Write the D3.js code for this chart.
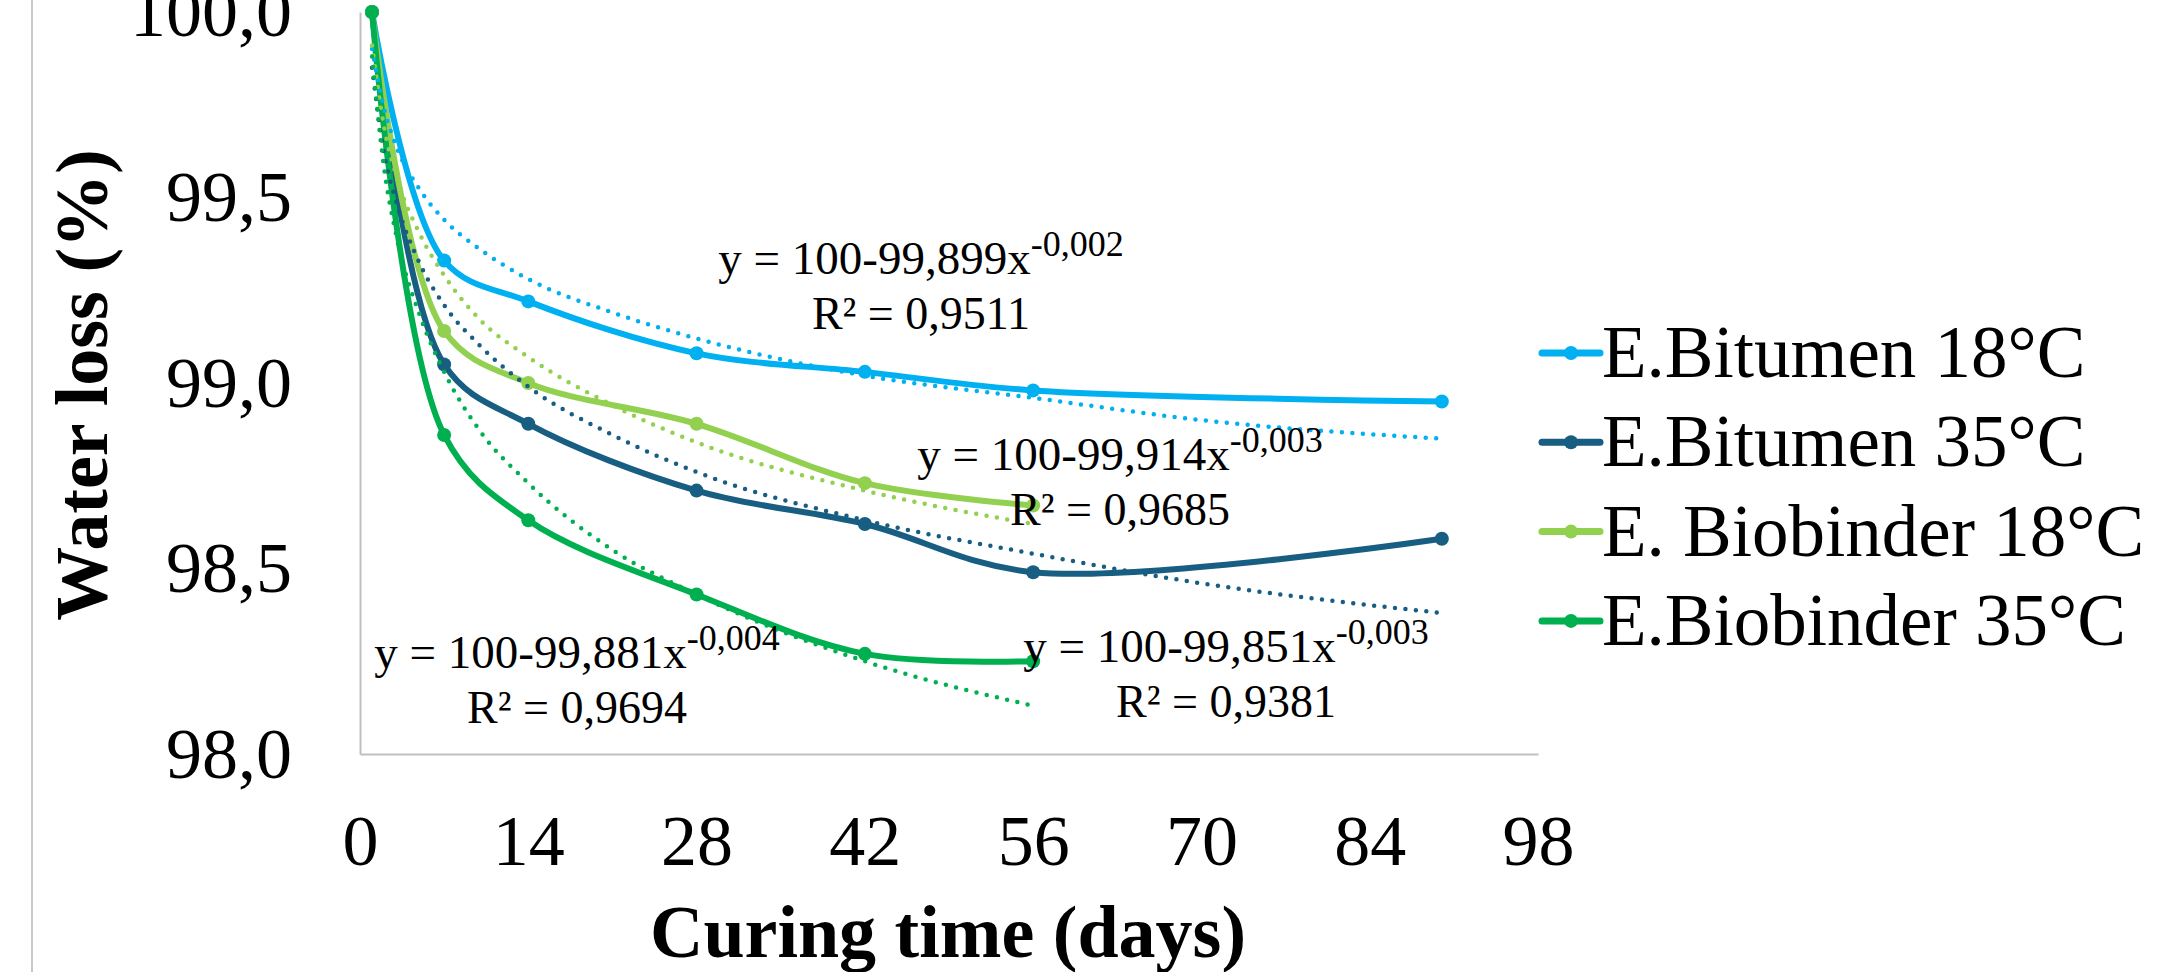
<!DOCTYPE html>
<html>
<head>
<meta charset="utf-8">
<script src="https://cdn.jsdelivr.net/npm/d3@7"></script>
<style>
  body { margin: 0; background: #fff; }
  text { font-family: "Liberation Serif", "Times New Roman", serif; fill: #000; }
</style>
</head>
<body>
<script>
// values
const days = [1, 7, 14, 28, 42, 56, 90];
const seriesNames = ["E.Bitumen 18°C", "E.Bitumen 35°C", "E. Biobinder 18°C", "E.Biobinder 35°C"];
const bitumen18 = [100, 99.33, 99.22, 99.08, 99.03, 98.98, 98.95];
const bitumen35 = [100, 99.05, 98.89, 98.71, 98.62, 98.49, 98.58];
const biobinder18 = [100, 99.14, 99.00, 98.89, 98.73, 98.67];
const biobinder35 = [100, 98.86, 98.63, 98.43, 98.27, 98.25];

// dotted power trendlines
const trendDays = [1, 2, 3, 5, 7, 10, 14, 21, 28, 42, 56, 70, 90];
const trendBitumen18 = [99.90, 99.74, 99.64, 99.52, 99.44, 99.36, 99.28, 99.19, 99.12, 99.02, 98.96, 98.90, 98.85];
const trendBitumen35 = [99.85, 99.62, 99.49, 99.32, 99.21, 99.10, 98.99, 98.86, 98.76, 98.63, 98.54, 98.46, 98.38];
const trendBiobinder18 = [99.91, 99.69, 99.56, 99.40, 99.29, 99.17, 99.07, 98.94, 98.84, 98.71, 98.62];
const trendBiobinder35 = [99.88, 99.58, 99.40, 99.18, 99.03, 98.87, 98.73, 98.55, 98.43, 98.25, 98.13];

// trendline equations, same order as the series
const eqMain = ["y = 100-99,899x", "y = 100-99,851x", "y = 100-99,914x", "y = 100-99,881x"];
const eqExp = ["-0,002", "-0,003", "-0,003", "-0,004"];
const r2Labels = ["R² = 0,9511", "R² = 0,9381", "R² = 0,9685", "R² = 0,9694"];

const xTicks = [0, 14, 28, 42, 56, 70, 84, 98];
const yTicks = [98, 98.5, 99, 99.5, 100];
const yTickLabels = ["98,0", "98,5", "99,0", "99,5", "100,0"];

const colors = ["#00B0F0", "#175E82", "#92D050", "#00B050"];

// layout
const width = 2181, height = 972;
const plot = {left: 360, right: 1538, top: 12, bottom: 754};

const svg = d3.select("body").append("svg")
    .attr("width", width)
    .attr("height", height);

// outer chart border (only left edge shows)
svg.append("line")
    .attr("x1", 32).attr("x2", 32)
    .attr("y1", 0).attr("y2", height)
    .attr("stroke", "#c8c8c8")
    .attr("stroke-width", 2);

const x = d3.scaleLinear().domain([0, 98]).range([plot.left, plot.right]);
const y = d3.scaleLinear().domain([98, 100]).range([plot.bottom, plot.top]);

// axes
const xAxis = svg.append("g")
    .attr("transform", `translate(0, ${plot.bottom})`)
    .call(d3.axisBottom(x).tickValues(xTicks).tickSize(0).tickPadding(60).tickFormat(d3.format("d")));
const yAxis = svg.append("g")
    .attr("transform", `translate(${plot.left}, 0)`)
    .call(d3.axisLeft(y).tickValues(yTicks).tickSize(0).tickPadding(68)
        .tickFormat((d, i) => yTickLabels[i]));

[xAxis, yAxis].forEach(function(g) {
    g.attr("font-family", null).attr("font-size", null);
    g.select(".domain").attr("stroke", "#bfbfbf").attr("stroke-width", 2);
    g.selectAll("text").style("font-size", "72px").attr("fill", "#000");
});

// axis titles
svg.append("text")
    .attr("transform", "translate(107, 385) rotate(-90)")
    .attr("text-anchor", "middle")
    .style("font-size", "74px")
    .style("font-weight", "bold")
    .text("Water loss (%)");

svg.append("text")
    .attr("x", 948)
    .attr("y", 957)
    .attr("text-anchor", "middle")
    .style("font-size", "74px")
    .style("font-weight", "bold")
    .text("Curing time (days)");

// series
const series = [bitumen18, bitumen35, biobinder18, biobinder35].map(function(vals, i) {
    return {name: seriesNames[i], color: colors[i], points: vals.map((v, j) => ({day: days[j], value: v}))};
});
const trends = [trendBitumen18, trendBitumen35, trendBiobinder18, trendBiobinder35].map(function(vals, i) {
    return {color: colors[i], points: vals.map((v, j) => ({day: trendDays[j], value: v}))};
});

const smoothLine = d3.line()
    .x(d => x(d.day))
    .y(d => y(d.value))
    .curve(d3.curveCatmullRom.alpha(0.5));

const trendLine = d3.line()
    .x(d => x(d.day))
    .y(d => y(d.value))
    .curve(d3.curveMonotoneX);

series.forEach(function(s) {
    const g = svg.append("g");
    g.append("path")
        .datum(s.points)
        .attr("d", smoothLine)
        .attr("fill", "none")
        .attr("stroke", s.color)
        .attr("stroke-width", 6)
        .attr("stroke-linejoin", "round")
        .attr("stroke-linecap", "round");
    g.selectAll("circle")
        .data(s.points)
        .join("circle")
        .attr("cx", d => x(d.day))
        .attr("cy", d => y(d.value))
        .attr("r", 7)
        .attr("fill", s.color);
});

trends.forEach(function(t) {
    svg.append("path")
        .datum(t.points)
        .attr("d", trendLine)
        .attr("fill", "none")
        .attr("stroke", t.color)
        .attr("stroke-width", 4.5)
        .attr("stroke-linecap", "round")
        .attr("stroke-dasharray", "0 10.5");
});

// trendline labels
const annPos = [{x: 921, y: 274}, {x: 1226, y: 662}, {x: 1120, y: 470}, {x: 577, y: 668}];
annPos.forEach(function(p, i) {
    const t = svg.append("text")
        .attr("x", p.x)
        .attr("y", p.y)
        .attr("text-anchor", "middle")
        .style("font-size", "47px");
    t.append("tspan").text(eqMain[i]);
    t.append("tspan").attr("dy", -18).style("font-size", "36px").text(eqExp[i]);
    svg.append("text")
        .attr("x", p.x)
        .attr("y", p.y + 55)
        .attr("text-anchor", "middle")
        .style("font-size", "46px")
        .text(r2Labels[i]);
});

// legend
const legend = svg.selectAll(".legend")
    .data(series)
    .join("g")
    .attr("class", "legend")
    .attr("transform", (d, i) => `translate(1542, ${353 + i * 89.3})`);

legend.append("line")
    .attr("x1", 0).attr("x2", 58)
    .attr("stroke", d => d.color)
    .attr("stroke-width", 7)
    .attr("stroke-linecap", "round");
legend.append("circle")
    .attr("cx", 29)
    .attr("r", 7)
    .attr("fill", d => d.color);
legend.append("text")
    .attr("x", 60)
    .attr("y", 24)
    .style("font-size", "73px")
    .text(d => d.name);
</script>
</body>
</html>
